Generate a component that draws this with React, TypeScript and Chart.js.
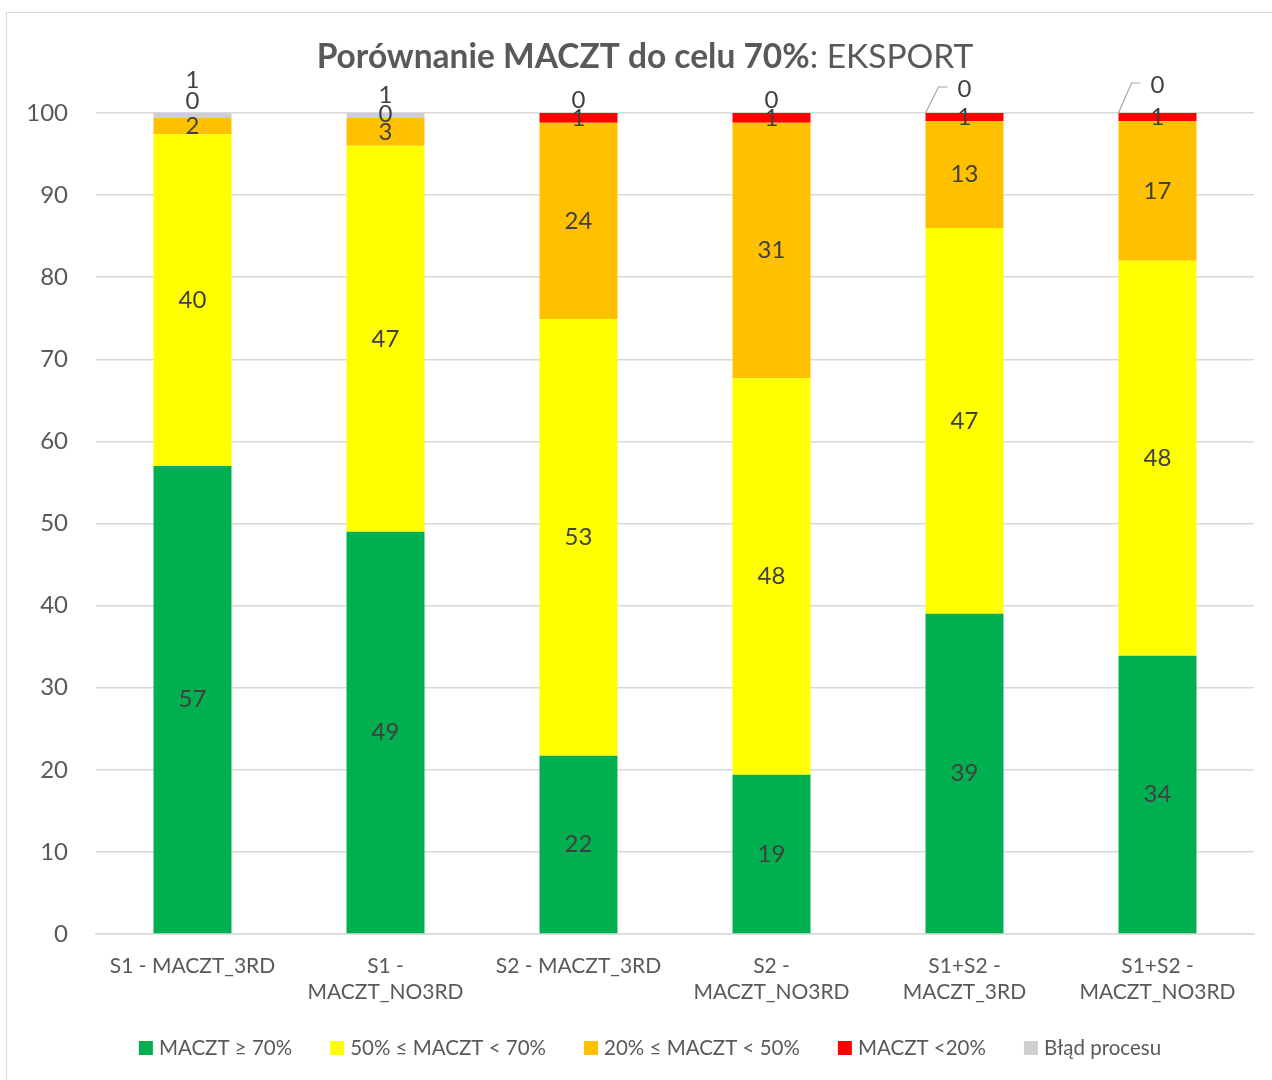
import React, { useEffect, useRef } from "react";
import { Chart, registerables } from "chart.js";

Chart.register(...registerables);

// ---------- data ----------
const categories: string[][] = [
  ["S1 - MACZT_3RD"],
  ["S1 -", "MACZT_NO3RD"],
  ["S2 - MACZT_3RD"],
  ["S2 -", "MACZT_NO3RD"],
  ["S1+S2 -", "MACZT_3RD"],
  ["S1+S2 -", "MACZT_NO3RD"],
];
const seriesNames = [
  "MACZT ≥ 70%",
  "50% ≤ MACZT < 70%",
  "20% ≤ MACZT < 50%",
  "MACZT <20%",
  "Błąd procesu",
];
const green = [57.0, 49.0, 21.7, 19.4, 39.0, 33.9];
const yellow = [40.4, 47.0, 53.2, 48.3, 47.0, 48.1];
const orange = [2.0, 3.4, 23.9, 31.1, 13.0, 17.0];
const red = [0, 0, 1.2, 1.2, 1.0, 1.0];
const gray = [0.6, 0.6, 0, 0, 0, 0];
const yTicks = [0, 10, 20, 30, 40, 50, 60, 70, 80, 90, 100];
const titleBold = "Porównanie MACZT do celu 70%";
const titleRest = ": EKSPORT";

// ---------- styles ----------
const seriesColors = ["#00B050", "#FFFF00", "#FFC000", "#FF0000", "#D0CECE"];
const FONT = "Lato, 'Open Sans', sans-serif";
const TEXT = "#595959";
const LABEL = "#404040";
// label nudges (px) for crowded labels at top: key "dataset-index"
const labelNudge: Record<string, { dy: number; leader?: boolean }> = {
  "3-0": { dy: -17 },
  "4-0": { dy: -35 },
  "3-1": { dy: -4 },
  "4-1": { dy: -20 },
  "4-2": { dy: -13 },
  "4-3": { dy: -13 },
  "4-4": { dy: -24, leader: true },
  "4-5": { dy: -28, leader: true },
};

const overlayPlugin = {
  id: "overlay",
  afterDatasetsDraw(chart: any) {
    const ctx = chart.ctx as CanvasRenderingContext2D;
    ctx.save();
    // data labels
    ctx.font = `24px ${FONT}`;
    ctx.fillStyle = LABEL;
    ctx.textAlign = "center";
    ctx.textBaseline = "middle";
    chart.data.datasets.forEach((ds: any, di: number) => {
      const meta = chart.getDatasetMeta(di);
      meta.data.forEach((el: any, i: number) => {
        const v = ds.data[i];
        const nudge = labelNudge[`${di}-${i}`];
        const x = el.x;
        let y = (el.y + el.base) / 2;
        if (nudge) y += nudge.dy;
        if (nudge && nudge.leader) {
          const left = el.x - el.width / 2;
          ctx.strokeStyle = "#A6A6A6";
          ctx.lineWidth = 1.2;
          ctx.beginPath();
          ctx.moveTo(left, el.y);
          ctx.lineTo(left + 13, y - 2);
          ctx.lineTo(left + 22, y - 2);
          ctx.stroke();
        }
        ctx.fillText(String(Math.round(v)), x, y);
      });
    });
    // title
    ctx.textBaseline = "middle";
    ctx.textAlign = "left";
    const tSize = 33.5;
    ctx.font = `bold ${tSize}px ${FONT}`;
    const w1 = ctx.measureText(titleBold).width;
    ctx.font = `${tSize}px ${FONT}`;
    const w2 = ctx.measureText(titleRest).width;
    const tx = 645 - (w1 + w2) / 2;
    ctx.fillStyle = TEXT;
    ctx.font = `bold ${tSize}px ${FONT}`;
    ctx.fillText(titleBold, tx, 57);
    ctx.font = `${tSize}px ${FONT}`;
    ctx.fillText(titleRest, tx + w1, 57);
    // legend
    ctx.font = `20.5px ${FONT}`;
    const box = 14;
    const gapBoxText = 6;
    const gapItems = 38;
    const widths = seriesNames.map((n) => ctx.measureText(n).width);
    const total =
      widths.reduce((a, b) => a + b, 0) +
      seriesNames.length * (box + gapBoxText) +
      (seriesNames.length - 1) * gapItems;
    let lx = 650 - total / 2;
    const ly = 1048;
    seriesNames.forEach((n, i) => {
      ctx.fillStyle = seriesColors[i];
      ctx.fillRect(lx, ly - box / 2, box, box);
      lx += box + gapBoxText;
      ctx.fillStyle = TEXT;
      ctx.fillText(n, lx, ly);
      lx += widths[i] + gapItems;
    });
    ctx.restore();
  },
};

export default function App() {
  const ref = useRef<HTMLCanvasElement | null>(null);
  useEffect(() => {
    if (!ref.current) return;
    const series = [green, yellow, orange, red, gray];
    const chart = new Chart(ref.current, {
      type: "bar",
      data: {
        labels: categories,
        datasets: series.map((d, i) => ({
          label: seriesNames[i],
          data: d,
          backgroundColor: seriesColors[i],
          borderWidth: 0,
          barPercentage: 0.404,
          categoryPercentage: 1,
        })),
      },
      options: {
        animation: false,
        responsive: false,
        maintainAspectRatio: false,
        layout: { padding: { top: 113, right: 18, left: 0, bottom: 0 } },
        plugins: {
          legend: { display: false },
          title: { display: false },
          tooltip: { enabled: false },
        },
        scales: {
          x: {
            stacked: true,
            grid: { display: false, drawTicks: false },
            border: { display: true, color: "#D9D9D9", width: 1.5 },
            ticks: {
              color: TEXT,
              font: { family: FONT, size: 21 },
              padding: 20,
              maxRotation: 0,
              autoSkip: false,
            },
            afterFit: (s: any) => {
              s.height = 146;
            },
          },
          y: {
            stacked: true,
            min: 0,
            max: 100,
            afterBuildTicks: (s: any) => {
              s.ticks = yTicks.map((v) => ({ value: v }));
            },
            grid: { color: "#D9D9D9", lineWidth: 1.5, drawTicks: false },
            border: { display: false },
            ticks: {
              color: TEXT,
              font: { family: FONT, size: 24 },
              padding: 28,
            },
            afterFit: (s: any) => {
              s.width = 96;
            },
          },
        },
      },
      plugins: [overlayPlugin],
    });
    return () => chart.destroy();
  }, []);
  return (
    <div
      style={{
        position: "absolute",
        left: 0,
        top: 0,
        width: 1272,
        height: 1080,
        overflow: "hidden",
        background: "#fff",
      }}
    >
      <div
        style={{
          position: "absolute",
          left: 6,
          top: 12,
          width: 1300,
          height: 1100,
          border: "1.5px solid #D9D9D9",
          boxSizing: "border-box",
        }}
      />
      <canvas
        ref={ref}
        width={1272}
        height={1080}
        style={{ position: "absolute", left: 0, top: 0, width: 1272, height: 1080 }}
      />
    </div>
  );
}
